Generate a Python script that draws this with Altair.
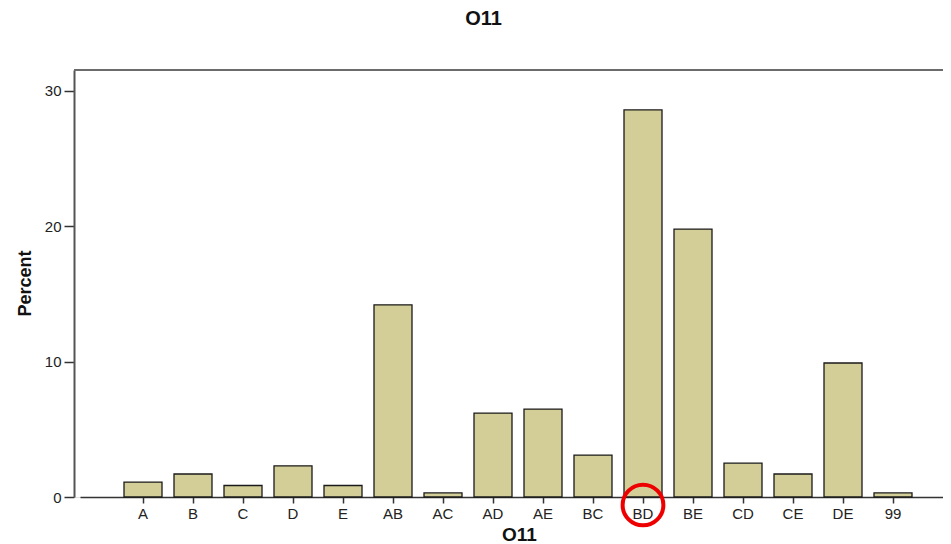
import altair as alt
import pandas as pd

categories = ["A", "B", "C", "D", "E", "AB", "AC", "AD", "AE", "BC", "BD", "BE", "CD", "CE", "DE", "99"]
percents = [1.1, 1.7, 0.85, 2.3, 0.85, 14.2, 0.3, 6.2, 6.5, 3.1, 28.6, 19.8, 2.5, 1.7, 9.9, 0.3]
highlight = ["BD"]

df = pd.DataFrame({"cat": categories, "pct": percents})
hl = pd.DataFrame({"cat": highlight})

W, H = 869, 427
FONT = "Liberation Sans"

xscale = alt.Scale(domain=categories, paddingInner=0.24, paddingOuter=0.88, range=[6, 882])

bars = alt.Chart(df).mark_bar(fill="#d3ce97", stroke="#1a1a1a", strokeWidth=1.3).encode(
    x=alt.X("cat:N", sort=categories, scale=xscale,
            axis=alt.Axis(title="O11", labelAngle=0, tickSize=6, tickWidth=1.5, tickColor="#333",
                          domainColor="#333", domainWidth=1.5, labelFontSize=15, labelColor="#222",
                          labelFont=FONT, labelPadding=3, titleFont=FONT, titleFontSize=19,
                          titleFontWeight="bold", titleColor="#111", titleX=445, titleY=43,
                          titleBaseline="alphabetic", titleAlign="center", grid=False)),
    y=alt.Y("pct:Q", scale=alt.Scale(domain=[0, 31.55], nice=False),
            axis=alt.Axis(title="Percent", values=[0, 10, 20, 30], tickSize=10, tickWidth=1.5,
                          tickColor="#333", domainColor="#555", domainWidth=2, labelFontSize=15,
                          labelColor="#222", labelFont=FONT, labelPadding=3, titleFont=FONT,
                          titleFontSize=18, titleFontWeight="bold", titleColor="#111",
                          titleAngle=270, titleX=-49, titleY=213, titleAlign="center",
                          titleBaseline="middle", grid=False)),
)

top_border = alt.Chart(df).mark_rule(color="#6b6b6b", strokeWidth=2).encode(
    x=alt.value(0), x2=alt.value(W), y=alt.value(0)
)

circle = alt.Chart(hl).mark_point(shape="circle", filled=False, stroke="#ee0000", strokeWidth=4,
                                   size=1660, opacity=1).encode(
    x=alt.X("cat:N", sort=categories, scale=xscale),
    y=alt.value(435),
)

chart = alt.layer(bars, top_border, circle).properties(
    width=W, height=H,
    title=alt.TitleParams("O11", fontSize=20, fontWeight="bold", font=FONT, color="#111",
                          anchor="middle", dx=-25, offset=24, baseline="alphabetic"),
    autosize=alt.AutoSizeParams(type="none"),
    padding={"left": 66, "top": 62, "right": 0, "bottom": 47},
).configure_view(
    stroke=None, fill="#efefef"
).configure(background="white")

chart.save("out.html", embed_options={"renderer": "svg", "actions": False})
